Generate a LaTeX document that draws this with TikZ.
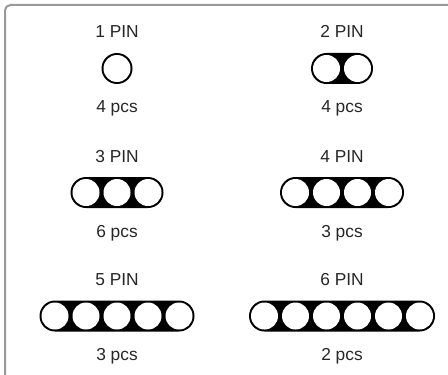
\documentclass[tikz,border=0pt]{standalone}
\usepackage{fontspec}
\setmainfont{Liberation Sans}
\usetikzlibrary{shapes.misc}

\begin{document}
\begin{tikzpicture}[
  x=0.75pt,y=-0.75pt,
  every node/.style={font=\fontsize{13}{15}\selectfont,text=black!85},
  pintext/.style={anchor=base,inner sep=0pt},
  plug/.style={rounded rectangle,fill=black,minimum height=23.25pt,inner sep=0pt},
  hole/.style={circle,fill=white,minimum size=20.25pt,inner sep=0pt},
  frame/.style={draw=black!40,line width=1.5pt,rounded corners=4pt}
]
  \useasboundingbox (0,0) rectangle (448,374);
  \begin{scope}
    \clip (0,0) rectangle (448,374);
    \draw[frame] (5,5) rectangle (480,400);
  \end{scope}

  % connectors: pin count / column / row / quantity
  \foreach \n/\cx/\cy/\qty in {1/117/68.5/4,2/342/68.5/4,3/117/192.5/6,
                               4/342/192.5/3,5/117/316/3,6/342/316/2}{
    \node[plug,minimum width=\n*23.25pt] (plug\n) at (\cx,\cy) {};
    \foreach \k in {1,...,\n}
      \node[hole] (plug\n-\k) at ({\cx+(\k-(\n+1)/2)*31},\cy) {};
    \node[pintext] (pin\n) at (\cx,\cy-30.5) {\n\ PIN};
    \node[pintext] (pcs\n) at (\cx,\cy+44.5) {\qty\ pcs};
  }
\end{tikzpicture}
\end{document}
